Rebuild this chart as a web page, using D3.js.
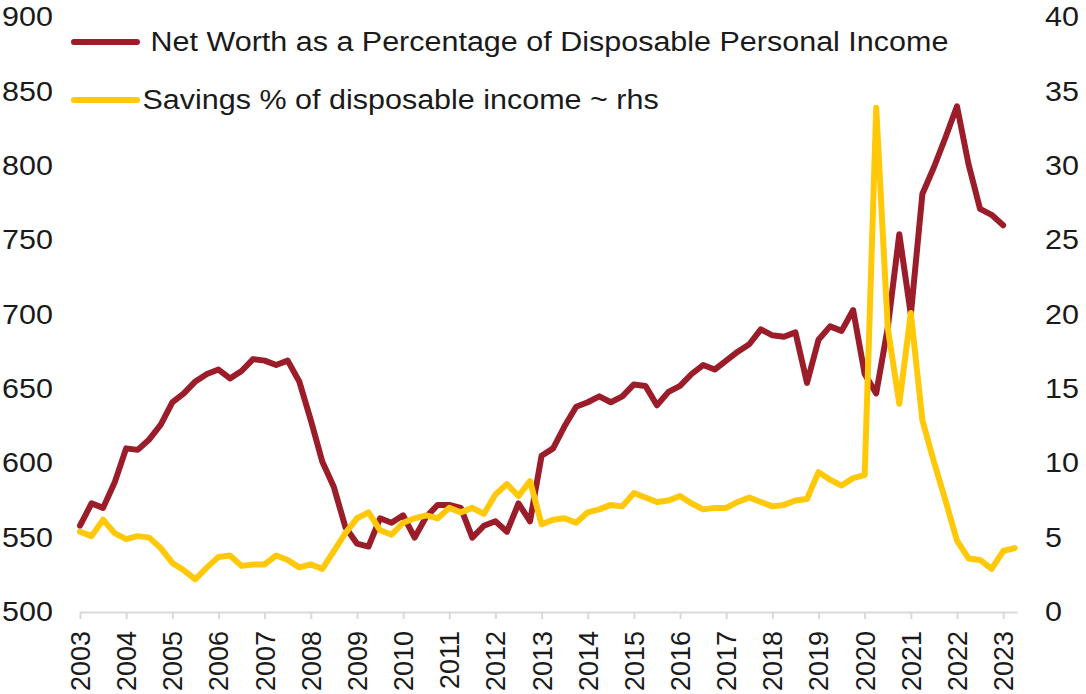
<!DOCTYPE html>
<html>
<head>
<meta charset="utf-8">
<script src="https://cdn.jsdelivr.net/npm/d3@7"></script>
<style>
  html, body { margin: 0; padding: 0; background: #fff; }
  svg { display: block; font-family: "Liberation Sans", Arial, sans-serif; }
</style>
</head>
<body>
<svg id="chart" width="1086" height="694"></svg>
<script>
// Quarterly series, first quarter of 2003 onwards
const firstYear = 2003;

// Household net worth, % of disposable personal income (left axis)
const netWorth = [
  558, 573, 570, 587,   // 2003
  610, 609, 616, 626,   // 2004
  641, 647, 655, 660,   // 2005
  663, 657, 662, 670,   // 2006
  669, 666, 669, 655,   // 2007
  629, 601, 584, 557,   // 2008
  546, 544, 563, 560,   // 2009
  565, 550, 564, 572,   // 2010
  572, 570, 550, 558,   // 2011
  561, 554, 573, 561,   // 2012
  605, 610, 625, 638,   // 2013
  641, 645, 641, 645,   // 2014
  653, 652, 639, 648,   // 2015
  652, 660, 666, 663,   // 2016
  669, 675, 680, 690,   // 2017
  686, 685, 688, 654,   // 2018
  683, 692, 689, 703,   // 2019
  660, 647, 691, 754,   // 2020
  700, 781, 799, 819,   // 2021
  840, 801, 771, 767,   // 2022
  760                   // 2023
];

// Personal saving, % of disposable income (right axis)
const savingsRate = [
  5.4, 5.1, 6.2, 5.3,   // 2003
  4.9, 5.1, 5.0, 4.3,   // 2004
  3.3, 2.8, 2.2, 3.0,   // 2005
  3.7, 3.8, 3.1, 3.2,   // 2006
  3.2, 3.8, 3.5, 3.0,   // 2007
  3.2, 2.9, 4.1, 5.3,   // 2008
  6.3, 6.7, 5.5, 5.2,   // 2009
  6.0, 6.3, 6.5, 6.3,   // 2010
  7.0, 6.7, 7.0, 6.6,   // 2011
  7.9, 8.6, 7.8, 8.8,   // 2012
  5.9, 6.2, 6.3, 6.0,   // 2013
  6.7, 6.9, 7.2, 7.1,   // 2014
  8.0, 7.7, 7.4, 7.5,   // 2015
  7.8, 7.3, 6.9, 7.0,   // 2016
  7.0, 7.4, 7.7, 7.4,   // 2017
  7.1, 7.2, 7.5, 7.6,   // 2018
  9.4, 8.9, 8.5, 9.0,   // 2019
  9.2, 33.9, 19.1, 14.0,// 2020
  20.1, 12.9, 10.1, 7.5,// 2021
  4.8, 3.6, 3.5, 2.9,   // 2022
  4.1, 4.3              // 2023
];

const yearTicks = [2003, 2004, 2005, 2006, 2007, 2008, 2009, 2010, 2011, 2012,
                   2013, 2014, 2015, 2016, 2017, 2018, 2019, 2020, 2021, 2022, 2023];
const leftTicks = [500, 550, 600, 650, 700, 750, 800, 850, 900];
const rightTicks = [0, 5, 10, 15, 20, 25, 30, 35, 40];

const seriesNames = [
  "Net Worth as a Percentage of Disposable Personal Income",
  "Savings % of disposable income ~ rhs"
];
const colors = ["#9c1d2a", "#ffc90a"];

const svg = d3.select("#chart");
const textColor = "#1a1a1a";
const fontSize = 27;
const stretch = "scale(1.13,1)";   // slightly wide lettering

const x = d3.scaleLinear().domain([2003, 2023.3]).range([80, 1017]);
const yL = d3.scaleLinear().domain([500, 900]).range([612, 17]);
const yR = d3.scaleLinear().domain([0, 40]).range([612, 17]);

const period = i => firstYear + i / 4;

// Left axis labels
const gL = svg.append("g")
  .attr("transform", "translate(53,0)")
  .call(d3.axisLeft(yL).tickValues(leftTicks).tickSize(0).tickPadding(0).tickFormat(d3.format("d")));
gL.select(".domain").remove();
gL.selectAll("text")
  .attr("x", 0)
  .attr("font-size", fontSize)
  .attr("font-family", "Liberation Sans, Arial, sans-serif")
  .attr("fill", textColor)
  .attr("transform", stretch);

// Right axis labels
const gR = svg.append("g")
  .attr("transform", "translate(1045,0)")
  .call(d3.axisRight(yR).tickValues(rightTicks).tickSize(0).tickPadding(0).tickFormat(d3.format("d")));
gR.select(".domain").remove();
gR.selectAll("text")
  .attr("x", 0)
  .attr("font-size", fontSize)
  .attr("font-family", "Liberation Sans, Arial, sans-serif")
  .attr("fill", textColor)
  .attr("transform", stretch);

// Bottom axis with year labels
const gX = svg.append("g")
  .attr("transform", "translate(0,612)")
  .call(d3.axisBottom(x).tickValues(yearTicks).tickSize(7).tickSizeOuter(0).tickFormat(d3.format("d")));
gX.select(".domain").attr("stroke", "#d9d9d9").attr("stroke-width", 2);
gX.selectAll(".tick line").attr("stroke", "#d9d9d9").attr("stroke-width", 2);
gX.selectAll("text")
  .attr("transform", "rotate(-90)")
  .attr("x", -19)
  .attr("y", 0)
  .attr("dy", "0.35em")
  .attr("text-anchor", "end")
  .attr("font-size", fontSize)
  .attr("font-family", "Liberation Sans, Arial, sans-serif")
  .attr("fill", textColor);

// Lines
const lineL = d3.line().x((d, i) => x(period(i))).y(d => yL(d));
const lineR = d3.line().x((d, i) => x(period(i))).y(d => yR(d));

svg.append("path")
  .datum(netWorth)
  .attr("d", lineL)
  .attr("fill", "none")
  .attr("stroke", colors[0])
  .attr("stroke-width", 6)
  .attr("stroke-linejoin", "round")
  .attr("stroke-linecap", "round");

svg.append("path")
  .datum(savingsRate)
  .attr("d", lineR)
  .attr("fill", "none")
  .attr("stroke", colors[1])
  .attr("stroke-width", 6)
  .attr("stroke-linejoin", "round")
  .attr("stroke-linecap", "round");

// Legend
const legendRows = [
  { y: 42, textX: 150.5 },
  { y: 100, textX: 142.5 }
];
legendRows.forEach((row, i) => {
  svg.append("line")
    .attr("x1", 74).attr("x2", 137)
    .attr("y1", row.y).attr("y2", row.y)
    .attr("stroke", colors[i])
    .attr("stroke-width", 6)
    .attr("stroke-linecap", "round");
  svg.append("text")
    .attr("transform", `translate(${row.textX},${row.y}) ${stretch}`)
    .attr("dy", "0.35em")
    .attr("font-size", fontSize)
    .attr("fill", textColor)
    .text(seriesNames[i]);
});
</script>
</body>
</html>
